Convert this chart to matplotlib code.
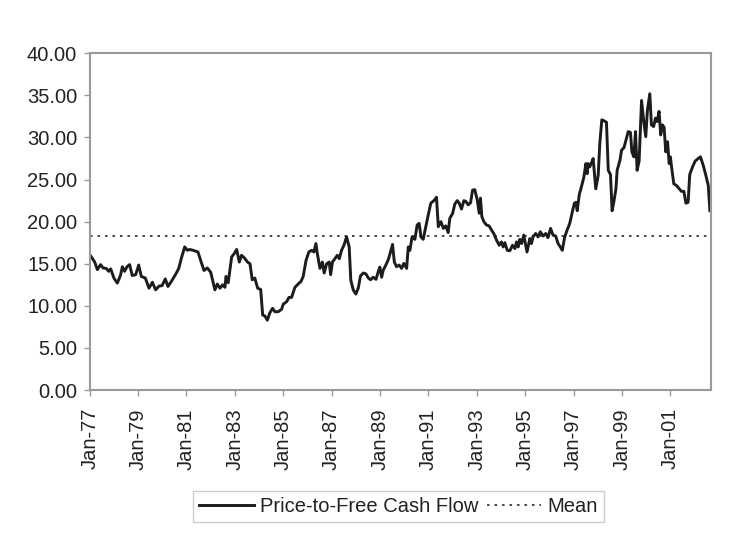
import matplotlib
matplotlib.use("Agg")
import matplotlib.pyplot as plt
from matplotlib.ticker import FormatStrFormatter

plt.rcParams['font.family'] = ['Liberation Sans', 'DejaVu Sans']

# months since Jan-77 and price-to-free-cash-flow values
months = [
    0, 2.5, 3.8, 5.4, 6.6, 8.2, 9.4, 10.4, 12.0, 13.7, 15.3, 16.2, 17.3, 18.5, 19.8,
    21.1, 22.8, 24.3, 25.6, 27.6, 29.4, 31.1, 32.7, 34.4, 35.9, 37.5, 38.8, 40.5,
    42.5, 44.1, 45.4, 47.1, 48.4, 49.6, 51.2, 52.4, 53.7, 55.3, 56.7, 58.3, 60.0,
    62.1, 63.3, 64.6, 65.9, 67.1, 67.6, 68.7, 70.4, 71.5, 72.9, 74.2, 75.3, 76.7,
    78.3, 79.5, 80.6, 81.9, 83.3, 84.8, 85.8, 86.9, 88.1, 89.4, 90.7, 91.9, 93.5,
    95.2, 96.0, 97.7, 98.8, 100.1, 101.8, 103.4, 104.8, 105.9, 107.3, 108.7, 110.1,
    111.2, 112.2, 112.9, 114.2, 115.4, 116.3, 117.5, 118.8, 119.5, 120.4, 121.6,
    122.8, 123.8, 124.9, 126.1, 127.4, 128.7, 129.5, 130.7, 132.0, 133.2, 134.3,
    135.7, 137.0, 138.2, 139.3, 140.6, 142.0, 143.1, 143.9, 144.8, 145.6, 146.9,
    148.1, 149.2, 150.2, 151.1, 152.2, 153.5, 154.7, 155.8, 157.2, 158.0, 158.8,
    159.9, 161.3, 162.4, 163.4, 164.3, 165.4, 166.7, 167.9, 169.2, 170.7, 172.0,
    172.9, 174.2, 175.4, 176.6, 177.8,
    178.6, 180.0, 181.1, 182.3, 183.3, 184.4, 185.6, 186.6, 187.7, 188.9, 189.9,
    191.0, 192.2, 193.2, 193.8, 194.5, 195.5, 196.8, 198.1, 199.3, 200.4, 201.8,
    203.1, 204.2, 205.1, 205.9, 207.1, 208.4, 209.7, 210.9, 211.7, 212.5, 213.3,
    214.2, 215.3, 216.9, 218.3, 219.1, 219.9, 221.2, 222.4, 223.5, 224.9, 226.2,
    227.3, 228.6, 229.8, 231.1, 232.3, 233.4, 234.4, 235.6, 236.8, 238.1, 239.4,
    240.4,
    241.1, 241.8, 242.8, 243.9, 245.1, 246.1, 246.7, 247.2, 248.0, 248.9, 249.7,
    251.0, 252.2, 253.0, 254.0, 255.0, 256.3, 257.2, 258.3, 259.1, 260.0, 261.0,
    261.6, 263.0, 263.8, 265.0, 265.9, 267.1, 268.2, 268.9, 269.9, 270.7, 271.5,
    272.5, 273.7, 274.8, 275.8, 276.6, 277.8, 278.6, 279.7, 280.6, 281.4, 282.4,
    283.2, 284.1, 284.9, 285.7, 286.6, 287.4, 288.0, 288.7, 289.7, 291.0, 292.4,
    293.5, 294.7, 295.7, 296.8, 297.6, 299.0, 300.3, 301.8, 302.9, 304.3, 305.6,
    306.8, 307.6,
]
pfcf = [
    16.1, 15.2, 14.3, 14.9, 14.5, 14.45, 14.1, 14.4, 13.3, 12.7, 13.65, 14.65, 14.1,
    14.65, 14.9, 13.6, 13.7, 14.85, 13.5, 13.3, 12.1, 12.8, 11.9, 12.35, 12.4, 13.2,
    12.3, 12.9, 13.7, 14.4, 15.6, 17.0, 16.6, 16.7, 16.6, 16.5, 16.4, 15.2, 14.2,
    14.5, 14.0,
    11.9, 12.6, 12.1, 12.5, 12.2, 13.5, 12.75, 15.8, 16.15, 16.7, 15.2, 16.0, 15.7,
    15.2, 15.0, 13.1, 13.3, 12.1, 11.95, 8.9, 8.8, 8.3, 9.2, 9.7, 9.3, 9.3, 9.6, 10.2,
    10.5, 11.0, 11.0, 12.2, 12.6, 12.9, 13.5, 15.4, 16.4, 16.6, 16.4, 17.4, 16.2,
    14.45, 15.2, 13.9, 15.0, 15.2, 13.7, 15.2, 15.6,
    16.0, 15.6, 16.6, 17.2, 18.2, 17.0, 13.05, 11.9, 11.4, 12.1, 13.55, 13.9, 13.8,
    13.3, 13.1, 13.4, 13.15, 14.05, 14.6, 13.4, 14.25, 14.85, 15.5, 16.4, 17.3, 15.2,
    14.65, 14.85, 14.45, 15.05, 14.45, 17.0, 16.6, 18.2, 17.9, 19.6, 19.8, 18.2,
    17.9, 19.4, 20.8, 22.2, 22.5, 22.9, 19.4, 20.0, 19.2, 19.5, 18.7,
    20.4, 20.98, 22.1, 22.5, 22.2, 21.5, 22.5, 22.4, 22.0, 22.25, 23.75, 23.8, 22.6,
    21.0, 22.8, 20.6, 20.0, 19.6, 19.5, 19.0, 18.6, 17.8, 17.2, 17.6, 17.0, 17.5,
    16.6, 16.55, 17.2, 16.8, 17.6, 17.0, 17.9, 17.4, 18.4, 16.4, 18.0, 17.4, 18.2,
    18.6, 18.2, 18.8, 18.3, 18.6, 18.1, 19.2, 18.4, 18.3, 17.4, 17.0, 16.6, 18.2,
    19.0, 19.8, 21.2, 22.2,
    22.3, 21.3, 23.2, 24.15, 25.3, 26.9, 25.7, 26.9, 26.5, 27.0, 27.5, 23.9, 25.5,
    29.3, 32.1, 32.0, 31.8, 26.1, 25.6, 21.3, 22.4, 23.9, 26.1, 27.3, 28.5, 28.8,
    29.6, 30.7, 30.6, 28.3, 27.7, 30.7, 26.1, 27.2, 34.4, 31.9, 30.1, 33.2, 35.2,
    31.5, 31.3, 32.3, 31.9, 33.1, 30.3, 31.5, 31.2, 28.3, 29.5, 26.9, 27.7, 26.3,
    24.5, 24.3, 23.9, 23.6, 23.6, 22.2, 22.3, 25.6, 26.5, 27.2, 27.5, 27.7, 26.7,
    25.5, 24.3, 21.3,
]
mean_value = 18.3

tick_months = list(range(0, 289, 24))
tick_labels = ['Jan-77', 'Jan-79', 'Jan-81', 'Jan-83', 'Jan-85', 'Jan-87', 'Jan-89',
               'Jan-91', 'Jan-93', 'Jan-95', 'Jan-97', 'Jan-99', 'Jan-01']

fig = plt.figure(figsize=(7.5, 5.37), dpi=100)
ax = fig.add_axes([0.1196, 0.2737, 0.8288, 0.627])

ax.plot(months, pfcf, color='#1c1c1c', linewidth=2.1, label='Price-to-Free Cash Flow')
ax.axhline(mean_value, color='#1c1c1c', linewidth=1.1, linestyle=(0, (1.7, 3.2)),
           label='Mean')

ax.set_xlim(0, 308.3)
ax.set_ylim(0, 40)
ax.set_yticks(range(0, 41, 5))
ax.yaxis.set_major_formatter(FormatStrFormatter('%.2f'))
ax.set_xticks(tick_months)
ax.set_xticklabels(tick_labels, rotation=90)

for s in ax.spines.values():
    s.set_color('#9a9a9a')
    s.set_linewidth(1.5)
ax.tick_params(axis='both', direction='out', length=4, width=1, color='#9a9a9a',
               labelsize=14.5, labelcolor='#222222')
ax.tick_params(axis='y', pad=5)
ax.tick_params(axis='x', pad=9)

fig.legend(loc='center', bbox_to_anchor=(0.5313, 0.0568), ncol=2, frameon=True,
           fancybox=False, edgecolor='#c0c0c0', fontsize=14.5, handlelength=2.7,
           handletextpad=0.3, columnspacing=0.45, borderpad=0.3, labelcolor='#222222')

fig.savefig('out.png', dpi=100)
